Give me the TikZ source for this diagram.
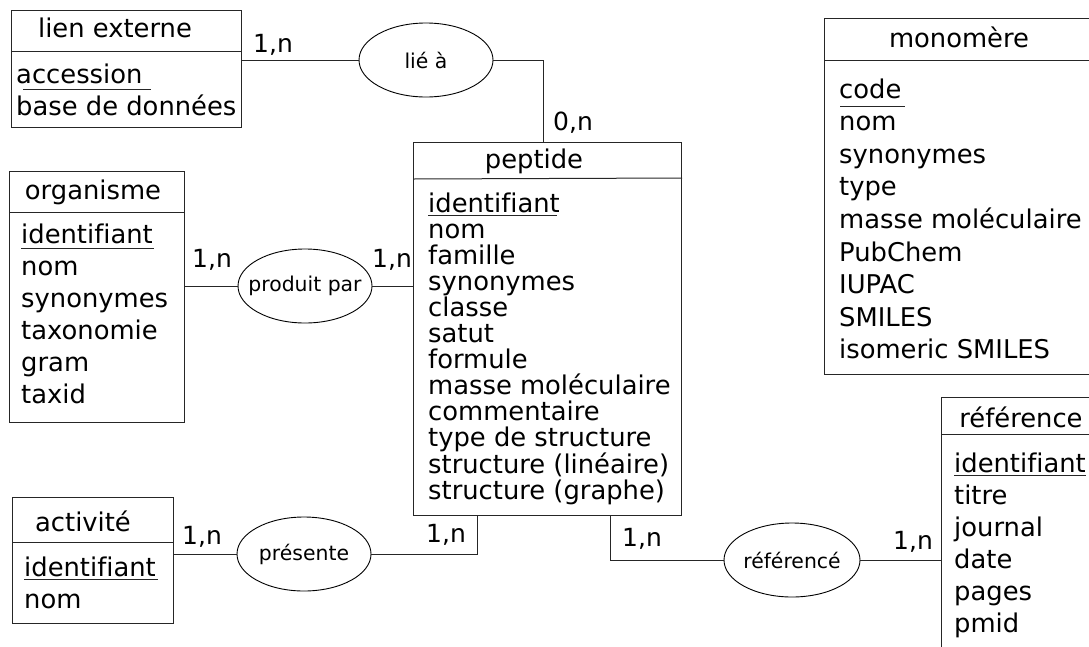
\documentclass[tikz,border=0pt]{standalone}
\usepackage{fontspec}
\setmainfont[Ligatures=NoCommon]{DejaVu Sans}
\usetikzlibrary{shapes.geometric}
\begin{document}
\begin{tikzpicture}[x=1pt,y=-1pt,
  ebox/.style={draw=black!85, line width=1pt, rectangle, inner sep=0pt, anchor=north west},
  assoc/.style={draw=black, ellipse, line width=0.9pt, minimum width=134pt, minimum height=74pt, inner sep=0pt,
    label={[font=\fontsize{20.4}{24}\selectfont, inner sep=0pt]center:#1}},
  attr/.style={anchor=base west, inner sep=0pt, font=\fontsize{25.8}{30}\selectfont},
  ttl/.style={anchor=base, inner sep=0pt, font=\fontsize{25.8}{30}\selectfont},
  card/.style={anchor=base west, inner sep=0pt, font=\fontsize{25}{30}\selectfont},
  conn/.style={draw=black!85, line width=1pt},
  keyline/.style={draw=black!85, line width=1pt}
]
\useasboundingbox (0,0) rectangle (1089,646);

% ---------- entity boxes ----------
\node[ebox, minimum width=230pt, minimum height=117pt] (lien) at (11,10) {};
\node[ebox, minimum width=268pt, minimum height=373pt] (pep) at (413,142) {};
\node[ebox, minimum width=300pt, minimum height=356pt] (mono) at (824,18) {};
\node[ebox, minimum width=175pt, minimum height=251pt] (org) at (9,171) {};
\node[ebox, minimum width=161pt, minimum height=126pt] (act) at (12,497) {};
\node[ebox, minimum width=200pt, minimum height=300pt] (refb) at (941,397) {};

% header dividers
\draw[keyline] (lien.west |- 0,51) -- (lien.east |- 0,51);
\draw[keyline] (pep.west |- 0,179) -- (pep.east |- 0,178);
\draw[keyline] (mono.west |- 0,60) -- (mono.east |- 0,60);
\draw[keyline] (org.west |- 0,212) -- (org.east |- 0,212);
\draw[keyline] (act.west |- 0,542) -- (act.east |- 0,542);
\draw[keyline] (refb.west |- 0,434) -- (refb.east |- 0,434);

% titles
\node[ttl] (lien-t) at (115,37) {lien externe};
\node[ttl] (pep-t) at (534,168) {peptide};
\node[ttl] (mono-t) at (959,47) {monomère};
\node[ttl] (org-t) at (93,199) {organisme};
\node[ttl] (act-t) at (83,531) {activité};
\node[ttl] (refb-t) at (1021,427) {référence};

% attributes
\foreach [count=\i] \t in {accession, base de données}
  \node[attr] (lien-a\i) at (16,{83+32*(\i-1)}) {\t};
\foreach [count=\i] \t in {identifiant, nom, famille, synonymes, classe, satut, formule, masse moléculaire, commentaire, type de structure, structure (linéaire), structure (graphe)}
  \node[attr] (pep-a\i) at (428,{212+26.1*(\i-1)}) {\t};
\foreach [count=\i] \t in {code, nom, synonymes, type, masse moléculaire, PubChem, IUPAC, SMILES, isomeric SMILES}
  \node[attr] (mono-a\i) at (839,{98+32.6*(\i-1)}) {\t};
\foreach [count=\i] \t in {identifiant, nom, synonymes, taxonomie, gram, taxid}
  \node[attr] (org-a\i) at (21,{243+32*(\i-1)}) {\t};
\foreach [count=\i] \t in {identifiant, nom}
  \node[attr] (act-a\i) at (24,{576+32*(\i-1)}) {\t};
\foreach [count=\i] \t in {identifiant, titre, journal, date, pages, pmid}
  \node[attr] (refb-a\i) at (954,{472+32*(\i-1)}) {\t};

% key underlines
\draw[keyline] (23,89) -- (151,89);
\draw[keyline] (428,215) -- (557,215);
\draw[keyline] (840,106) -- (905,106);
\draw[keyline] (21,248) -- (154,248);
\draw[keyline] (24,579) -- (158,579);
\draw[keyline] (954,475) -- (1086,475);

% ---------- associations ----------
\node[assoc={lié à}] (lie) at (426,60) {};
\node[assoc={produit par}] (pp) at (305,286) {};
\node[assoc={présente}] (pr) at (304,554) {};
\node[assoc={référencé}, minimum width=136pt] (rf) at (792,560) {};

% ---------- connectors ----------
\coordinate (pepT) at (543,142);
\coordinate (pepB1) at (477,515);
\coordinate (pepB2) at (610,515);
\draw[conn] (lien.east |- lie.west) -- (lie.west);
\draw[conn] (lie.east) -| (pepT);
\draw[conn] (org.east |- pp.west) -- (pp.west);
\draw[conn] (pp.east) -- (pp.east -| pep.west);
\draw[conn] (act.east |- pr.west) -- (pr.west);
\draw[conn] (pr.east) -| (pepB1);
\draw[conn] (pepB2) |- (rf.west);
\draw[conn] (rf.east) -- (rf.east -| refb.west);

% cardinalities
\node[card] (c1) at (253,52) {1,n};
\node[card] (c2) at (553,130) {0,n};
\node[card] (c3) at (192,267) {1,n};
\node[card] (c4) at (372,267) {1,n};
\node[card] (c5) at (182,544) {1,n};
\node[card] (c6) at (426,542) {1,n};
\node[card] (c7) at (622,546) {1,n};
\node[card] (c8) at (893,549) {1,n};
\end{tikzpicture}
\end{document}
